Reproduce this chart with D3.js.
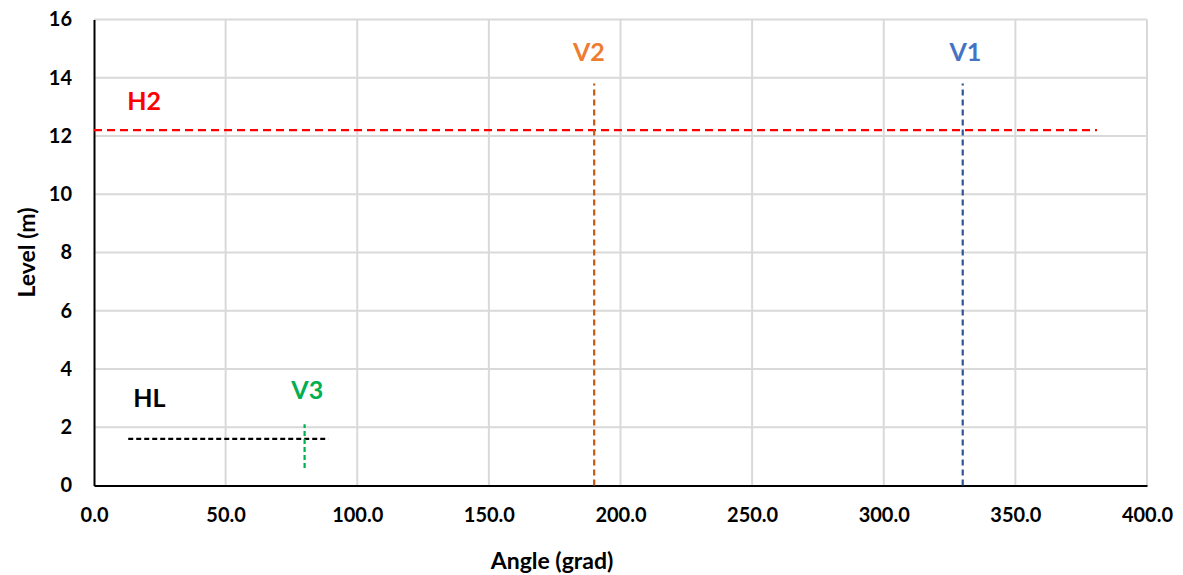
<!DOCTYPE html>
<html>
<head>
<meta charset="utf-8">
<script src="https://cdn.jsdelivr.net/npm/d3@7"></script>
<style>
body{margin:0;background:#fff}
text{font-family:Lato,'Open Sans',sans-serif;font-weight:bold}
</style>
</head>
<body>
<svg id="chart" width="1183" height="575"></svg>
<script>
var xTicks = [0,50,100,150,200,250,300,350,400]
var yTicks = [0,2,4,6,8,10,12,14,16]

// each series: name, two points, label position (data units)
var seriesNames  = ['H2','V2','V1','HL','V3']
var seriesX      = [[0,381],[190,190],[330,330],[13,89],[80,80]]
var seriesY      = [[12.2,12.2],[0,13.8],[0,13.8],[1.6,1.6],[0.6,2.1]]
var labelX       = [19,188,331,21,81]
var labelY       = [13.1,14.8,14.8,2.9,3.2]
var lineColors   = ['#ff0000','#c55a11','#2f5597','#000000','#00b050']
var labelColors  = ['#ff0000','#ed7d31','#4472c4','#000000','#00b050']
var dashes       = ['8,5','6,4','6,4','5,3','5,3']

var svg = d3.select('#chart')
var x = d3.scaleLinear().domain([0,400]).range([94,1147])
var y = d3.scaleLinear().domain([0,16]).range([485.5,19.5])

var grid = svg.append('g').attr('id','grid')
xTicks.forEach(function(e){
	if(e==0) return
	grid.append('line').attr('x1',x(e)).attr('x2',x(e)).attr('y1',y(0)).attr('y2',y(16))
		.style('stroke','#d9d9d9').style('stroke-width',2)
})
yTicks.forEach(function(e){
	if(e==0) return
	grid.append('line').attr('x1',x(0)).attr('x2',x(400)).attr('y1',y(e)).attr('y2',y(e))
		.style('stroke','#d9d9d9').style('stroke-width',2)
})

var xAxis = svg.append('g').attr('transform','translate(0,'+y(0)+')')
	.call(d3.axisBottom(x).tickValues(xTicks).tickFormat(d3.format('.1f')).tickSize(0).tickPadding(22))
var yAxis = svg.append('g').attr('transform','translate('+x(0)+',0)')
	.call(d3.axisLeft(y).tickValues(yTicks).tickSize(0).tickPadding(22))
;[xAxis,yAxis].forEach(function(a){
	a.select('.domain').style('stroke','#000').style('stroke-width',2)
	a.selectAll('text').style('font-size','20px').style('fill','#000')
		.style('font-family','Lato, sans-serif').style('font-weight','bold')
})

svg.append('text').text('Angle (grad)').attr('x',552).attr('y',569)
	.attr('text-anchor','middle').style('font-size','23px')
svg.append('text').text('Level (m)').attr('transform','translate(35,'+y(8)+') rotate(-90)')
	.attr('text-anchor','middle').style('font-size','23px')

var series = svg.append('g').attr('id','series')
seriesNames.forEach(function(e,i){
	var pts = seriesX[i].map(function(v,j){ return [v,seriesY[i][j]] })
	series.append('path').datum(pts)
		.attr('d',d3.line().x(function(d){return x(d[0])}).y(function(d){return y(d[1])}))
		.style('fill','none').style('stroke',lineColors[i]).style('stroke-width',2.2)
		.style('stroke-dasharray',dashes[i])
	series.append('text').text(e).attr('x',x(labelX[i])).attr('y',y(labelY[i]))
		.attr('text-anchor','middle').attr('dominant-baseline','middle')
		.style('font-size','25px').style('fill',labelColors[i])
})
</script>
</body>
</html>
